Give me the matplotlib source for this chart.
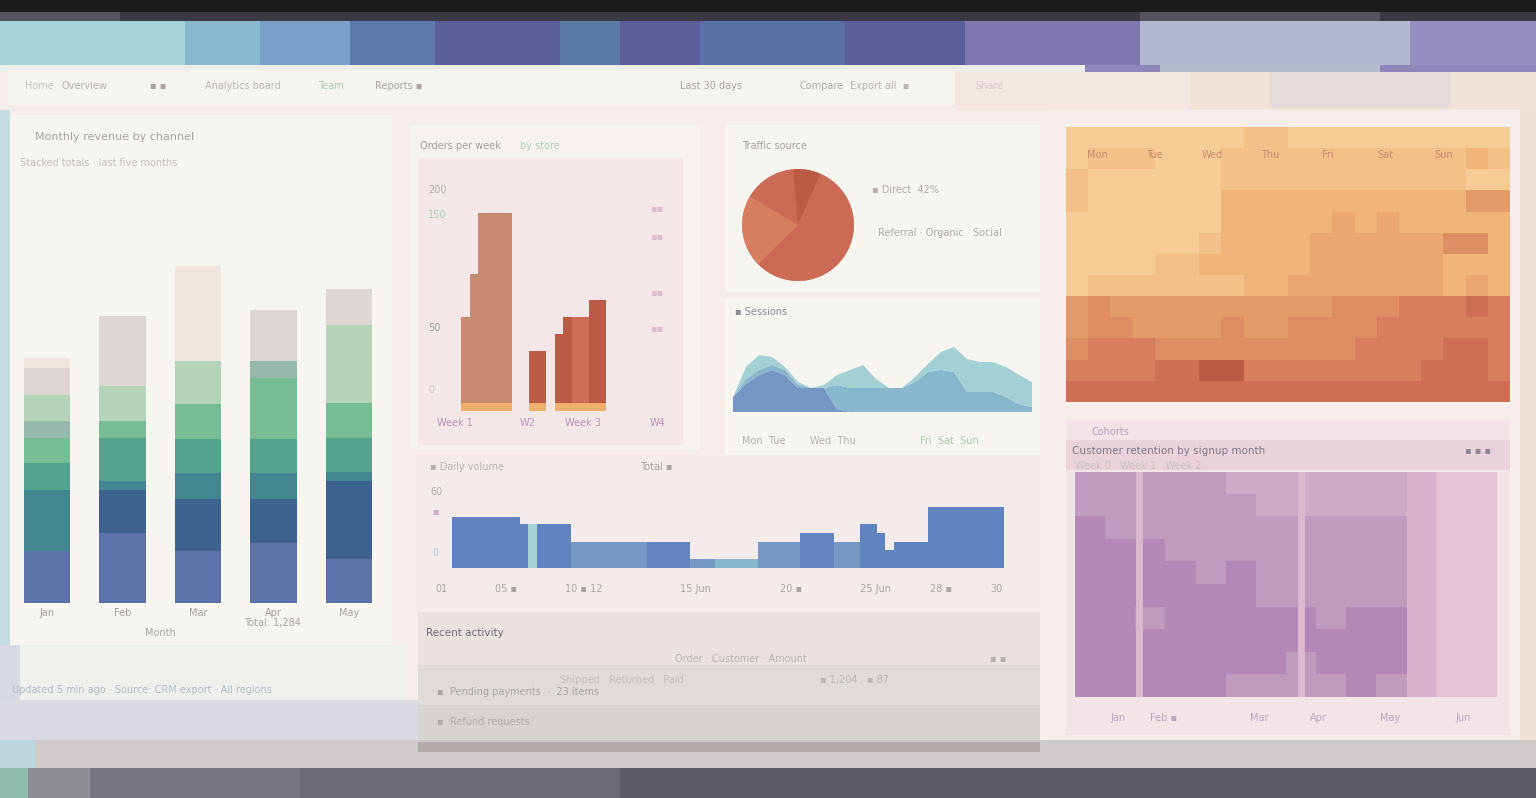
import numpy as np
import matplotlib.pyplot as plt
from matplotlib.patches import Rectangle, Circle
from matplotlib.colors import ListedColormap

W, H = 1536, 798

# %% Data
# stacked bars (left panel), one list per layer, bottom to top
months = ['Jan', 'Feb', 'Mar', 'Apr', 'May']
s_blue = [52, 70, 52, 60, 44]
s_navy = [0, 43, 52, 44, 78]
s_teal = [61, 9, 26, 26, 9]
s_dkgreen = [27, 43, 34, 34, 34]
s_green = [25, 17, 35, 61, 35]
s_sage = [17, 0, 0, 17, 0]
s_mint = [26, 35, 43, 0, 78]
s_grey = [27, 70, 0, 51, 36]
s_faint = [10, 0, 95, 0, 0]

# weekly orders histogram (centre top), bar part and base part
week_vals = [86, 129, 190, 190, 190, 190, 0, 0, 52, 52, 0, 69, 86, 86, 86, 103, 103]
week_base = [8, 8, 8, 8, 8, 8, 0, 0, 8, 8, 0, 8, 8, 8, 8, 8, 8]
week_kind = 'AAAAAA__BB_BBCCBB'

# traffic pie
pie_vals = [8, 56, 21, 15]

# sessions area, three layers
area_a = [15, 28, 37, 42, 37, 24, 24, 24, 3, 0, 0, 0, 0, 0, 0, 0, 0, 0, 0, 0, 0, 0, 0, 0]
area_b = [0, 5, 5, 5, 5, 3, 0, 0, 24, 24, 24, 24, 24, 24, 30, 40, 42, 40, 20, 20, 20, 15, 8, 5]
area_c = [0, 12, 15, 8, 3, 3, 0, 3, 10, 18, 23, 9, 0, 0, 5, 8, 18, 25, 33, 30, 30, 30, 29, 25]

# daily volume (centre bottom)
day_vals = [51, 51, 51, 51, 51, 51, 51, 51,
            44, 44, 44, 44, 44, 44,
            26, 26, 26, 26, 26, 26, 26, 26, 26,
            26, 26, 26, 26, 26,
            9, 9, 9, 9, 9, 9, 9, 9,
            26, 26, 26, 26, 26,
            35, 35, 35, 35,
            26, 26, 26,
            44, 44, 35, 18,
            26, 26, 26, 26,
            61, 61, 61, 61, 61, 61, 61, 61, 61]
day_kind = ('aaaaaaaa' 'ae' 'aaaa' 'bbbbbbbbb' 'ccccc' 'bbb' 'ddddd'
            'bbbbb' 'cccc' 'bbb' 'aa' 'a' 'a' 'aaaa' 'aaaaaaaaa')

# heatmap (right top), levels 0..9
heat_rows = [
    "11111111221111111111",
    "12221112222222222232",
    "21111112222222222211",
    "21111113333333333355",
    "11111113333343433333",
    "11111123333444444663",
    "11112233333444444333",
    "12222222334444444343",
    "56555555555566677787",
    "56655556556666777777",
    "67776666666667777887",
    "77778899777777778887",
    "88888888888888888888",
]

# cohort matrix (right bottom), levels 0..4
cohort_rows = [
    "33333222222100",
    "33333322222100",
    "43333333333100",
    "44433333333100",
    "44443433333100",
    "44444433333100",
    "44344444344100",
    "44444444444100",
    "44444443444100",
    "44444333343100",
]

# %% Helpers
def box(x0, y0, x1, y1):
    return [x0 / W, 1 - y1 / H, (x1 - x0) / W, (y1 - y0) / H]

def clean(ax, fc='none'):
    ax.set_facecolor(fc)
    for s in ax.spines.values():
        s.set_visible(False)
    ax.set_xticks([])
    ax.set_yticks([])

fig = plt.figure(figsize=(15.36, 7.98), dpi=100, facecolor='#f4edea')
bg = fig.add_axes([0, 0, 1, 1])
bg.set_xlim(0, W)
bg.set_ylim(H, 0)
bg.axis('off')

def rect(x0, y0, x1, y1, c):
    bg.add_patch(Rectangle((x0, y0), x1 - x0, y1 - y0, color=c, lw=0))

def txt(x, y, s, c='#b7b0ad', fs=7, **kw):
    bg.text(x, y, s, color=c, fontsize=fs, va='center', **kw)

# %% Page frame
rect(0, 0, W, 12, '#1b1b1b')
rect(0, 12, W, 21, '#3a3944')
rect(0, 12, 120, 21, '#55545e')
rect(1140, 12, 1380, 21, '#55545e')
banner = [(0, '#a6d3d9'), (185, '#8ab8cf'), (260, '#7a9fc8'), (350, '#5f78ae'),
          (435, '#5b5e98'), (560, '#5a7aa5'), (620, '#5b5e98'), (700, '#5a70a6'),
          (845, '#5b5e98'), (965, '#7f78b0'), (1140, '#b3b8d0'), (1410, '#978ec0')]
for i, (x, c) in enumerate(banner):
    x1 = banner[i + 1][0] if i + 1 < len(banner) else W
    rect(x, 21, x1, 65, c)
rect(1085, 65, W, 72, '#8f87ba')
rect(1160, 65, 1380, 72, '#b5bbcc')
rect(0, 65, 1085, 72, '#ecefe9')
rect(8, 70, 955, 105, '#f5f4ef')
rect(955, 72, W, 110, '#f3e7e4')
rect(1190, 72, W, 110, '#efe2d8')
rect(1270, 72, 1450, 108, '#e3dcda')
rect(0, 110, 10, 645, '#c5dde2')
rect(10, 115, 392, 645, '#f6f5f0')
rect(0, 645, 405, 700, '#eef0ec')
rect(0, 645, 20, 745, '#d8dae3')
rect(0, 700, 420, 745, '#d9dae3')
rect(410, 125, 700, 450, '#f6f3ee')
rect(418, 158, 683, 445, '#f3e8e7')
rect(725, 125, 1040, 292, '#f6f5f0')
rect(725, 298, 1040, 455, '#f6f5f0')
rect(418, 455, 1040, 608, '#f4ecea')
rect(418, 612, 1040, 745, '#e9e2df')
rect(418, 665, 1040, 745, '#e0dbd7')
rect(418, 705, 1040, 745, '#d7d3cf')
rect(1045, 110, 1520, 745, '#f5eeea')
rect(1520, 110, W, 745, '#efe1d5')
rect(1066, 420, 1510, 735, '#f2e4e7')
rect(1066, 440, 1510, 470, '#ebd3dc')
rect(0, 740, W, 768, '#cfcbca')
rect(0, 740, 35, 768, '#bcd6dc')
rect(418, 742, 1040, 752, '#b3aba9')
rect(0, 768, W, H, '#5d5b66')
rect(28, 768, 300, H, '#77757f')
rect(300, 768, 620, H, '#6c6a75')
rect(28, 768, 90, H, '#8f8e95')
rect(0, 768, 28, H, '#8fbcae')

# header texts
txt(25, 86, 'Home', '#c9c6c1')
txt(62, 86, 'Overview', '#b9b3ae')
txt(150, 86, '▪ ▪', '#a9a3a0')
txt(205, 86, 'Analytics board', '#bdb7b2')
txt(318, 86, 'Team', '#b1c7b3')
txt(375, 86, 'Reports ▪', '#aaa4a1')
txt(680, 86, 'Last 30 days', '#aca5a2')
txt(800, 86, 'Compare', '#b4aeaa')
txt(850, 86, 'Export all  ▪', '#bbb5b0')
txt(975, 86, 'Share', '#d9c7c9')

# %% Left: stacked bars
ax = fig.add_axes(box(10, 240, 392, 603))
clean(ax)
xpos = np.arange(len(months))
layers = [s_blue, s_navy, s_teal, s_dkgreen, s_green, s_sage, s_mint, s_grey, s_faint]
lcols = ['#5b71a7', '#3d628d', '#43868f', '#55a38d', '#76bd96', '#97b9ad',
         '#b5d3b9', '#dcd7d2', '#efe6e2']
bottom = np.zeros(len(months))
for vals, c in zip(layers, lcols):
    ax.bar(xpos, vals, width=0.62, bottom=bottom, color=c, lw=0)
    bottom += np.array(vals)
ax.set_xlim(-0.49, 4.57)
ax.set_ylim(0, 363)
txt(35, 137, 'Monthly revenue by channel', '#a9a2a0', 8)
txt(20, 163, 'Stacked totals · last five months', '#c6bfbb', 7)
for i, m in enumerate(months):
    txt(47 + 75.5 * i, 613, m, '#a8a29f', 7, ha='center')
txt(160, 633, 'Month', '#aaa3a0', 7, ha='center')
txt(272, 623, 'Total: 1,284', '#aaa3a0', 7, ha='center')
txt(12, 690, 'Updated 5 min ago · Source: CRM export · All regions', '#b3bcc4', 7)

# %% Centre top: weekly orders
ax = fig.add_axes(box(418, 158, 683, 445))
clean(ax)
wx = np.arange(len(week_vals))
kc = {'A': '#c68a70', 'B': '#bb5b47', 'C': '#cd6d58', '_': '#f3e8e7'}
ax.bar(wx, week_base, width=1.0, align='edge', color='#efb06f', lw=0)
ax.bar(wx, week_vals, width=1.0, align='edge', bottom=week_base,
       color=[kc[k] for k in week_kind], lw=0)
ax.set_xlim(-5.06, 26.1)
ax.set_ylim(-34, 253)
txt(420, 146, 'Orders per week', '#a59f9c', 7)
txt(520, 146, 'by store', '#b5ccb9', 7)
for y, s, c in [(190, '200', '#b4aeab'), (215, '150', '#a9cdb2'),
                (328, '50', '#a19c9c'), (390, '0', '#c9c4c1')]:
    txt(428, y, s, c, 7)
for y in (208, 236, 292, 328):
    txt(650, y, '▪▪', '#dcbccd', 7)
for x, s in [(437, 'Week 1'), (520, 'W2'), (565, 'Week 3'), (650, 'W4')]:
    txt(x, 423, s, '#b794b8', 7)

# %% Pie
ax = fig.add_axes(box(742, 169, 854, 281))
ax.add_patch(Circle((0, 0), 0.995, color='#cc6b55', lw=0))
ax.pie(pie_vals, colors=['#bb5a45', '#cc6b55', '#d67f60', '#cc6b55'],
       startangle=95, counterclock=False, wedgeprops=dict(lw=0))
ax.set_xlim(-1, 1)
ax.set_ylim(-1, 1)
txt(742, 146, 'Traffic source', '#a69fa0', 7)
txt(872, 190, '▪ Direct  42%', '#b3acaa', 7)
txt(878, 233, 'Referral · Organic · Social', '#b0aaa8', 7)

# %% Sessions area
ax = fig.add_axes(box(733, 300, 1032, 412))
clean(ax)
ax.stackplot(np.arange(len(area_a)), area_a, area_b, area_c,
             colors=['#7597c4', '#88b6cc', '#a3d0d5'], lw=0)
ax.set_xlim(0, len(area_a) - 1)
ax.set_ylim(0, 112)
txt(735, 312, '▪ Sessions', '#8d8a92', 7)
txt(742, 441, 'Mon  Tue', '#b5aeab', 7)
txt(810, 441, 'Wed  Thu', '#b8b1ae', 7)
txt(920, 441, 'Fri  Sat  Sun', '#a9cbb2', 7)

# %% Centre bottom: daily volume
ax = fig.add_axes(box(420, 470, 1040, 575))
clean(ax)
dc = {'a': '#5f84c0', 'b': '#7599c4', 'c': '#6585c0', 'd': '#88b6cc', 'e': '#a5d2d6'}
ax.bar(np.arange(len(day_vals)), day_vals, width=1.0, align='edge',
       color=[dc[k] for k in day_kind], lw=0)
ax.set_xlim(-3.76, 69.2)
ax.set_ylim(-7, 98)
txt(430, 467, '▪ Daily volume', '#b7b0ad', 7)
txt(640, 467, 'Total ▪', '#a8a3a2', 7)
txt(430, 492, '60', '#b3adab', 7)
txt(432, 511, '▪', '#d2a8cc', 7)
txt(432, 553, '0', '#b9c9d4', 7)
for x, s in [(435, '01'), (495, '05 ▪'), (565, '10 ▪ 12'), (680, '15 Jun'),
             (780, '20 ▪'), (860, '25 Jun'), (930, '28 ▪'), (990, '30')]:
    txt(x, 589, s, '#aaa4a2', 7)

# %% Table
txt(426, 633, 'Recent activity', '#6f6b72', 7.5)
txt(675, 659, 'Order · Customer · Amount', '#b8b1ae', 7)
txt(990, 659, '▪ ▪', '#b6b0ad', 7)
txt(437, 692, '▪  Pending payments  ·  23 items', '#aaa5a3', 7)
txt(560, 680, 'Shipped   Returned   Paid', '#c4beba', 7)
txt(820, 680, '▪ 1,204   ▪ 87', '#bdb6b2', 7)
txt(437, 722, '▪  Refund requests', '#b0aaa8', 7)

# %% Right top: heatmap
ax = fig.add_axes(box(1066, 127, 1510, 402))
clean(ax)
heat = np.array([[int(ch) for ch in r] for r in heat_rows])
hcm = ListedColormap(['#f7d5a0', '#f5cc96', '#f2c088', '#efb47a', '#eaa771',
                      '#e49b6b', '#de8e64', '#d77f5d', '#cd6e55', '#bb5a45'])
ax.imshow(heat, cmap=hcm, vmin=-0.5, vmax=9.5, aspect='auto', interpolation='nearest')
for i, d in enumerate(['Mon', 'Tue', 'Wed', 'Thu', 'Fri', 'Sat', 'Sun']):
    ax.text(0.07 + 0.13 * i, 0.9, d, transform=ax.transAxes, color='#c98a6e',
            fontsize=7, ha='center', va='center')

# %% Right bottom: cohort matrix
ax = fig.add_axes(box(1075, 472, 1497, 697))
clean(ax)
coh = np.array([[int(ch) for ch in r] for r in cohort_rows])
pcm = ListedColormap(['#e6c5d5', '#d8b3cb', '#cdabc6', '#bf9bbd', '#b28ab5'])
ax.imshow(coh, cmap=pcm, vmin=-0.5, vmax=4.5, aspect='auto', interpolation='nearest')
for xl in (1.63, 7.0):
    ax.axvline(xl, color='#dcbacd', lw=5)
txt(1092, 432, 'Cohorts', '#b89fbf', 7)
txt(1072, 451, 'Customer retention by signup month', '#7d7a85', 7.5)
txt(1465, 451, '▪ ▪ ▪', '#8c8992', 7)
txt(1075, 466, 'Week 0   Week 1   Week 2', '#c8c1bd', 7)
for x, s in [(1110, 'Jan'), (1150, 'Feb ▪'), (1250, 'Mar'), (1310, 'Apr'),
             (1380, 'May'), (1455, 'Jun')]:
    txt(x, 718, s, '#b8a7bd', 7)

fig.savefig('out.png', dpi=100, facecolor=fig.get_facecolor())
